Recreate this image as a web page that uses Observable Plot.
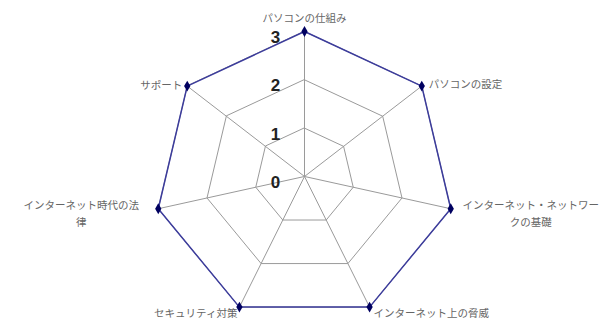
<!DOCTYPE html>
<html><head><meta charset="utf-8">
<script src="https://cdn.jsdelivr.net/npm/d3@7"></script>
<script src="https://cdn.jsdelivr.net/npm/@observablehq/plot@0.6"></script>
<style>body{margin:0;background:#fff}#chart svg{display:block}</style>
</head><body><div id="chart"></div>
<script>
const categories = ["パソコンの仕組み","パソコンの設定","インターネット・ネットワー\nクの基礎","インターネット上の脅威","セキュリティ対策","インターネット時代の法\n律","サポート"];
const values = [3,3,3,3,3,3,3];
const levels = [1,2,3];
const tickValues = [0,1,2,3];
const tickLabels = ["0","1","2","3"];
const maxValue = 3;

const n = categories.length;
const angle = i => i * 2 * Math.PI / n;
const pt = (i, v) => ({x: v * Math.sin(angle(i)), y: v * Math.cos(angle(i))});
const grid = levels.flatMap(l => categories.map((c, i) => ({level: l, ...pt(i, l)})));
const spokes = categories.map((c, i) => ({i, ...pt(i, maxValue)}));
const series = values.map((v, i) => ({cat: categories[i], i, ...pt(i, v)}));
const labels = categories.map((c, i) => ({text: c, i, ...pt(i, maxValue)}));

const labelStyle = [
  {textAnchor: "middle", dx: 0, dy: -15},
  {textAnchor: "start", dx: 7, dy: -4},
  {textAnchor: "middle", dx: 80, dy: 3},
  {textAnchor: "start", dx: 4, dy: 4},
  {textAnchor: "end", dx: -2, dy: 4},
  {textAnchor: "middle", dx: -77, dy: 3},
  {textAnchor: "end", dx: -5, dy: -3}
];
const font = "'Noto Sans CJK JP', 'Noto Sans', sans-serif";

const labelMarks = labels.map((d, i) => Plot.text([d], {
  x: "x", y: "y", text: "text",
  textAnchor: labelStyle[i].textAnchor, dx: labelStyle[i].dx, dy: labelStyle[i].dy,
  fill: "#666", fontSize: 10.5, fontFamily: font, lineHeight: 1.7,
  style: "letter-spacing:1.4px"
}));

const chart = Plot.plot({
  width: 614, height: 320,
  margin: 0,
  x: {domain: [-6.08, 6.20], axis: null},
  y: {domain: [-2.980, 3.641], axis: null},
  style: {background: "#fff", overflow: "visible"},
  marks: [
    Plot.line(grid, {x: "x", y: "y", z: "level", curve: "linear-closed", stroke: "#9a9a9a", strokeWidth: 1}),
    Plot.link(spokes, {x1: () => 0, y1: () => 0, x2: "x", y2: "y", stroke: "#9a9a9a", strokeWidth: 1}),
    Plot.line(series, {x: "x", y: "y", curve: "linear-closed", stroke: "#3c3c9c", strokeWidth: 1.5}),
    Plot.dot(series, {x: "x", y: "y", symbol: "diamond", r: 3.3, fill: "#000060", stroke: "none"}),
    Plot.text(tickValues, {x: () => 0, y: d => d, text: (d, i) => tickLabels[i], dx: -29, dy: 6,
      fontSize: 17, fontWeight: "bold", fill: "#222", fontFamily: "'Liberation Sans', Arial, sans-serif"}),
    ...labelMarks
  ]
});
document.getElementById("chart").appendChild(chart);
</script>
</body></html>
